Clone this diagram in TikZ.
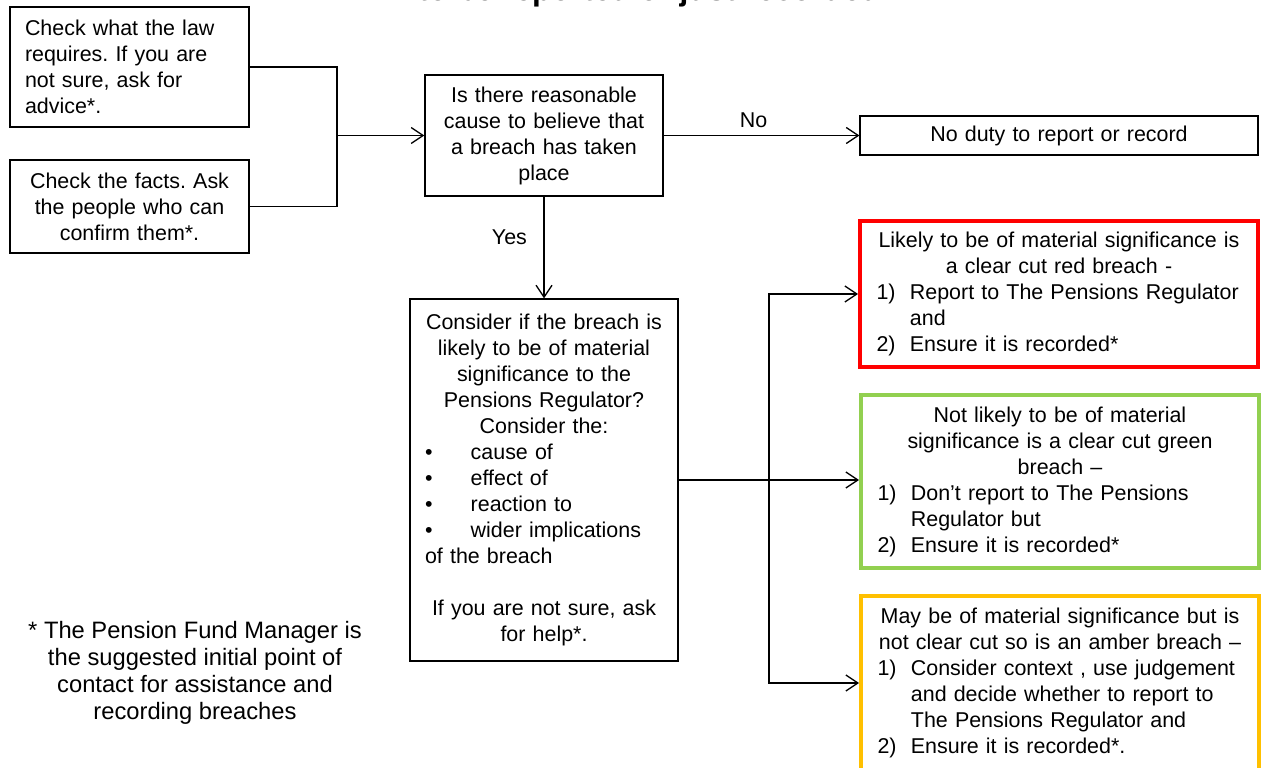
\documentclass[tikz,border=0pt]{standalone}
\usepackage{fontspec}
\setmainfont{Liberation Sans}
\usetikzlibrary{arrows.meta}
\frenchspacing
\definecolor{breachred}{RGB}{255,0,0}
\definecolor{breachgreen}{RGB}{146,208,80}
\definecolor{breachamber}{RGB}{255,192,0}
\newcommand{\numitem}[2]{\makebox[\hsize][l]{\makebox[19pt][l]{#1}#2}}
\newcommand{\dotitem}[1]{\makebox[\hsize][l]{\makebox[26pt][l]{•}#1}}

\begin{document}
\begin{tikzpicture}[x=0.02cm, y=-0.02cm,
    box/.style={draw, line width=0.75pt, inner sep=0pt, align=center, font=\fontsize{12.2pt}{14.8pt}\selectfont},
    outcome/.style={box, line width=2.3pt, minimum width=7.96cm, text width=7.3cm},
    flow/.style={line width=0.75pt},
    arrow/.style={flow, -{Straight Barb[length=2.4mm, width=3.2mm]}},
    lbl/.style={font=\fontsize{12.2pt}{14.8pt}\selectfont}]

    % Frame
    \useasboundingbox (0,0) rectangle (1263,767);

    % Heading (cut off at the top)
    \node[anchor=base, inner sep=0pt, font=\bfseries\fontsize{18pt}{21pt}\selectfont] (heading) at (649,0.5) {to be reported or just recorded};

    % Checks
    \node[box, minimum width=4.78cm, minimum height=2.4cm, text width=4.18cm, align=left] (law) at (129.5,67) {Check what the law\\ requires. If you are\\ not sure, ask for\\ advice*.};
    \node[box, minimum width=4.78cm, minimum height=1.86cm, text width=4.5cm] (facts) at (129.5,206.5) {Check the facts. Ask\\ the people who can\\ confirm them*.};

    % Question
    \node[box, minimum width=4.76cm, minimum height=2.42cm, text width=4.5cm] (cause) at (544,135.5) {Is there reasonable\\ cause to believe that\\ a breach has taken\\ place};
    \node[box, minimum width=7.96cm, minimum height=0.78cm, text width=7.5cm] (noduty) at (1059,135.5) {No duty to report or record};

    % Assessment
    \node[box, minimum width=5.36cm, minimum height=7.24cm, text width=4.76cm] (assess) at (544,480) {Consider if the breach is\\ likely to be of material\\ significance to the\\ Pensions Regulator?\\ Consider the:\\ \dotitem{cause of}\\ \dotitem{effect of}\\ \dotitem{reaction to}\\ \dotitem{wider implications}\\ \makebox[\hsize][l]{of the breach}\\[14.8pt] If you are not sure, ask\\ for help*.};

    % Outcomes
    \node[outcome, draw=breachred, minimum height=2.92cm] (red) at (1059,294) {Likely to be of material significance is\\ a clear cut red breach -\\ \numitem{1)}{Report to The Pensions Regulator}\\ \numitem{}{and}\\ \numitem{2)}{Ensure it is recorded*}};
    \node[outcome, draw=breachgreen, minimum height=3.46cm] (green) at (1060,481.5) {Not likely to be of material\\ significance is a clear cut green\\ breach –\\ \numitem{1)}{Don’t report to The Pensions}\\ \numitem{}{Regulator but}\\ \numitem{2)}{Ensure it is recorded*}};
    \node[outcome, draw=breachamber, minimum height=3.48cm] (amber) at (1060,683) {May be of material significance but is\\ not clear cut so is an amber breach –\\ \numitem{1)}{Consider context , use judgement}\\ \numitem{}{and decide whether to report to}\\ \numitem{}{The Pensions Regulator and}\\ \numitem{2)}{Ensure it is recorded*.}};

    % Note
    \node[align=center, font=\fontsize{13.5pt}{15.3pt}\selectfont] (note) at (195,673) {* The Pension Fund Manager is\\ the suggested initial point of\\ contact for assistance and\\ recording breaches};

    % Connectors
    \coordinate (join) at (337,135.5);
    \draw[flow] (law.east) -| (join);
    \draw[flow] (facts.east) -| (join);
    \draw[arrow] (join) -- (cause.west);
    \draw[arrow] (cause.east) -- node[lbl, above=1pt, pos=0.46] (no) {No} (noduty.west);
    \draw[arrow] (cause.south) -- node[lbl, left=6pt, pos=0.4] (yes) {Yes} (assess.north);

    \coordinate (fork) at (769,480);
    \draw[flow] (assess.east) -- (fork);
    \draw[arrow] (fork) |- (red.west);
    \draw[arrow] (fork) -- (fork -| green.west);
    \draw[arrow] (fork) |- (amber.west);

\end{tikzpicture}
\end{document}
